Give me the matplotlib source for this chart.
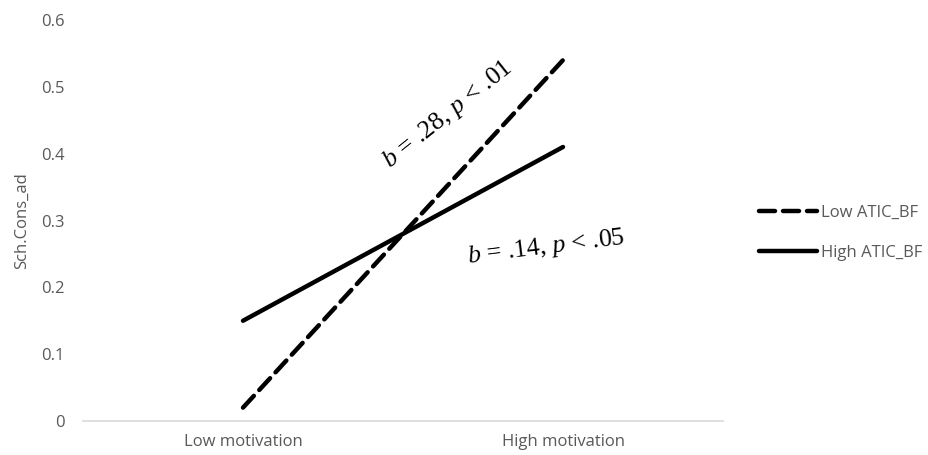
import matplotlib
matplotlib.use("Agg")
import matplotlib.pyplot as plt

categories = ["Low motivation", "High motivation"]
low_atic = [0.02, 0.54]
high_atic = [0.15, 0.41]
y_ticks = [0, 0.1, 0.2, 0.3, 0.4, 0.5, 0.6]
y_tick_labels = ["0", "0.1", "0.2", "0.3", "0.4", "0.5", "0.6"]

plt.rcParams["mathtext.fontset"] = "custom"
plt.rcParams["mathtext.rm"] = "Liberation Serif"
plt.rcParams["mathtext.it"] = "Liberation Serif:italic"

gray = "#595959"
font = "Open Sans"
fs = 12
W, H = 929, 455
fig = plt.figure(figsize=(W / 100, H / 100), dpi=100)
ax = fig.add_axes([83 / W, (H - 421) / H, 640 / W, 401 / H])

x = [0, 1]
ax.plot(x, low_atic, color="black", linewidth=3.2, linestyle=(0, (3.6, 1.8)),
        dash_capstyle="round", label="Low ATIC_BF")
ax.plot(x, high_atic, color="black", linewidth=3.2, solid_capstyle="round",
        label="High ATIC_BF")

ax.set_xlim(-0.5, 1.5)
ax.set_ylim(0, 0.6)
ax.set_xticks(x)
ax.set_xticklabels(categories, fontfamily=font, fontsize=fs, color=gray)
ax.set_yticks(y_ticks)
ax.set_yticklabels(y_tick_labels, fontfamily=font, fontsize=fs, color=gray)
ax.tick_params(length=0)
ax.tick_params(axis="x", pad=9)
ax.tick_params(axis="y", pad=13)
ax.set_ylabel("Sch.Cons_ad", fontfamily=font, fontsize=fs, color=gray, labelpad=8)

for side in ["top", "right", "left"]:
    ax.spines[side].set_visible(False)
ax.spines["bottom"].set_color("#d9d9d9")
ax.spines["bottom"].set_linewidth(1.2)

# annotations for the simple slopes
ax.text(0.64, 0.458, r"$b$ = .28, $p$ < .01", fontsize=18.5, rotation=38.5,
        ha="center", va="center", fontfamily="Liberation Serif")
ax.text(0.947, 0.26, r"$b$ = .14, $p$ < .05", fontsize=18.5, rotation=7,
        ha="center", va="center", fontfamily="Liberation Serif")

leg = fig.legend(loc="center left", bbox_to_anchor=(744 / W, 1 - 233 / H),
                 frameon=False, handlelength=3.5, handletextpad=0.2,
                 labelspacing=1.45, prop={"family": font, "size": fs})
for t in leg.get_texts():
    t.set_color(gray)

fig.savefig("out.png", dpi=100)
